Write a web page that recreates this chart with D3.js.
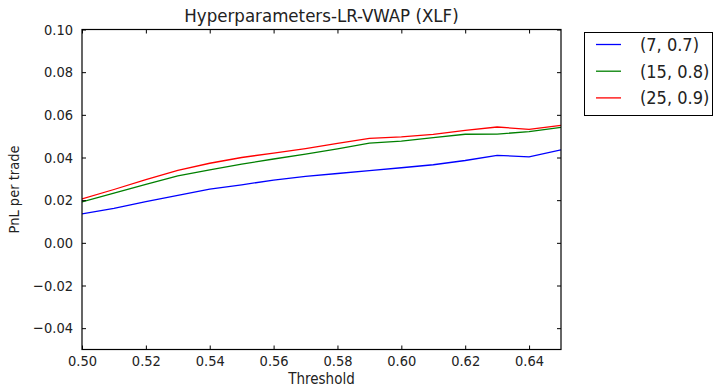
<!DOCTYPE html>
<html>
<head>
<meta charset="utf-8">
<script src="https://cdn.jsdelivr.net/npm/d3@7"></script>
<style>
  body { margin: 0; background: #fff; }
  svg { display: block; font-family: "DejaVu Sans Condensed", "DejaVu Sans", sans-serif; font-stretch: condensed; }
</style>
</head>
<body>
<svg id="chart" width="714" height="388"></svg>
<script>
const thresholds = [0.50,0.51,0.52,0.53,0.54,0.55,0.56,0.57,0.58,0.59,0.60,0.61,0.62,0.63,0.64,0.65];
const seriesNames = ["(7, 0.7)", "(15, 0.8)", "(25, 0.9)"];
const seriesColors = ["#0000ff", "#008000", "#ff0000"];
const blueValues  = [0.0136,0.0162,0.0193,0.0222,0.0252,0.0272,0.0294,0.0312,0.0325,0.0338,0.0352,0.0366,0.0386,0.0410,0.0403,0.0436];
const greenValues = [0.0192,0.0233,0.0274,0.0314,0.0342,0.0369,0.0393,0.0416,0.0440,0.0467,0.0477,0.0493,0.0509,0.0510,0.0521,0.0541];
const redValues   = [0.0206,0.0250,0.0296,0.0340,0.0373,0.0400,0.0421,0.0442,0.0466,0.0490,0.0497,0.0508,0.0527,0.0543,0.0532,0.0551];
const xTicks = [0.50,0.52,0.54,0.56,0.58,0.60,0.62,0.64];
const yTicks = [0.10,0.08,0.06,0.04,0.02,0.00,-0.02,-0.04];
const titleText = "Hyperparameters-LR-VWAP (XLF)";
const xLabel = "Threshold";
const yLabel = "PnL per trade";

const allSeries = [blueValues, greenValues, redValues];
const svg = d3.select("#chart");
const m = {left: 82, right: 561, top: 29.5, bottom: 349.5};
const x = d3.scaleLinear().domain([0.50, 0.65]).range([m.left, m.right]);
const y = d3.scaleLinear().domain([-0.05, 0.10]).range([m.bottom, m.top]);

const fmtY = v => (v < 0 ? "\u2212" : "") + Math.abs(v).toFixed(2);

// lines
const line = d3.line().x((d,i) => x(thresholds[i])).y(d => y(d));
svg.append("defs").append("clipPath").attr("id","clip")
  .append("rect").attr("x", m.left).attr("y", m.top).attr("width", m.right-m.left).attr("height", m.bottom-m.top);
const g = svg.append("g").attr("clip-path","url(#clip)");
allSeries.forEach((vals, k) => {
  g.append("path").datum(vals).attr("d", line)
    .attr("fill","none").attr("stroke", seriesColors[k]).attr("stroke-width", 1.3);
});

// axes: ticks inward on all four sides
const tl = 4;
const bottomAxis = d3.axisBottom(x).tickValues(xTicks).tickSize(-tl).tickPadding(6).tickFormat(d3.format(".2f"));
const topAxis = d3.axisTop(x).tickValues(xTicks).tickSize(-tl).tickFormat("");
const leftAxis = d3.axisLeft(y).tickValues(yTicks).tickSize(-tl).tickPadding(9).tickFormat(fmtY);
const rightAxis = d3.axisRight(y).tickValues(yTicks).tickSize(-tl).tickFormat("");

function styleAxis(sel) {
  sel.select(".domain").remove();
  sel.selectAll(".tick line").attr("stroke", "#000").attr("stroke-width", 1);
  sel.selectAll(".tick text").attr("fill", "#222").style("font-size", "14.5px")
    .style("font-family", "'DejaVu Sans Condensed', 'DejaVu Sans', sans-serif");
}
svg.append("g").attr("transform", `translate(0,${m.bottom})`).call(bottomAxis).call(styleAxis);
svg.append("g").attr("transform", `translate(0,${m.top})`).call(topAxis).call(styleAxis);
svg.append("g").attr("transform", `translate(${m.left},0)`).call(leftAxis).call(styleAxis);
svg.append("g").attr("transform", `translate(${m.right},0)`).call(rightAxis).call(styleAxis);

svg.append("rect").attr("x", m.left).attr("y", m.top).attr("width", m.right-m.left).attr("height", m.bottom-m.top)
  .attr("fill","none").attr("stroke","#000").attr("stroke-width",1.2);

// title and labels
svg.append("text").attr("x", (m.left+m.right)/2).attr("y", 22).attr("text-anchor","middle")
  .style("font-size","18.5px").attr("fill","#222").text(titleText);
svg.append("text").attr("x", (m.left+m.right)/2).attr("y", 384).attr("text-anchor","middle")
  .style("font-size","15px").attr("fill","#222").text(xLabel);
svg.append("text").attr("transform", `translate(19,${(m.top+m.bottom)/2}) rotate(-90)`).attr("text-anchor","middle")
  .style("font-size","14.5px").attr("fill","#222").text(yLabel);

// legend
const lg = svg.append("g");
lg.append("rect").attr("x", 584.5).attr("y", 32.5).attr("width", 128).attr("height", 83)
  .attr("fill","#fff").attr("stroke","#000").attr("stroke-width",1);
seriesNames.forEach((name, k) => {
  const yy = 44.5 + k * 26.7;
  lg.append("line").attr("x1", 596).attr("x2", 621).attr("y1", yy).attr("y2", yy)
    .attr("stroke", seriesColors[k]).attr("stroke-width", 1.3);
  lg.append("text").attr("x", 640).attr("y", yy + 6.5).style("font-size","18px").attr("fill","#222").text(name);
});
</script>
</body>
</html>
